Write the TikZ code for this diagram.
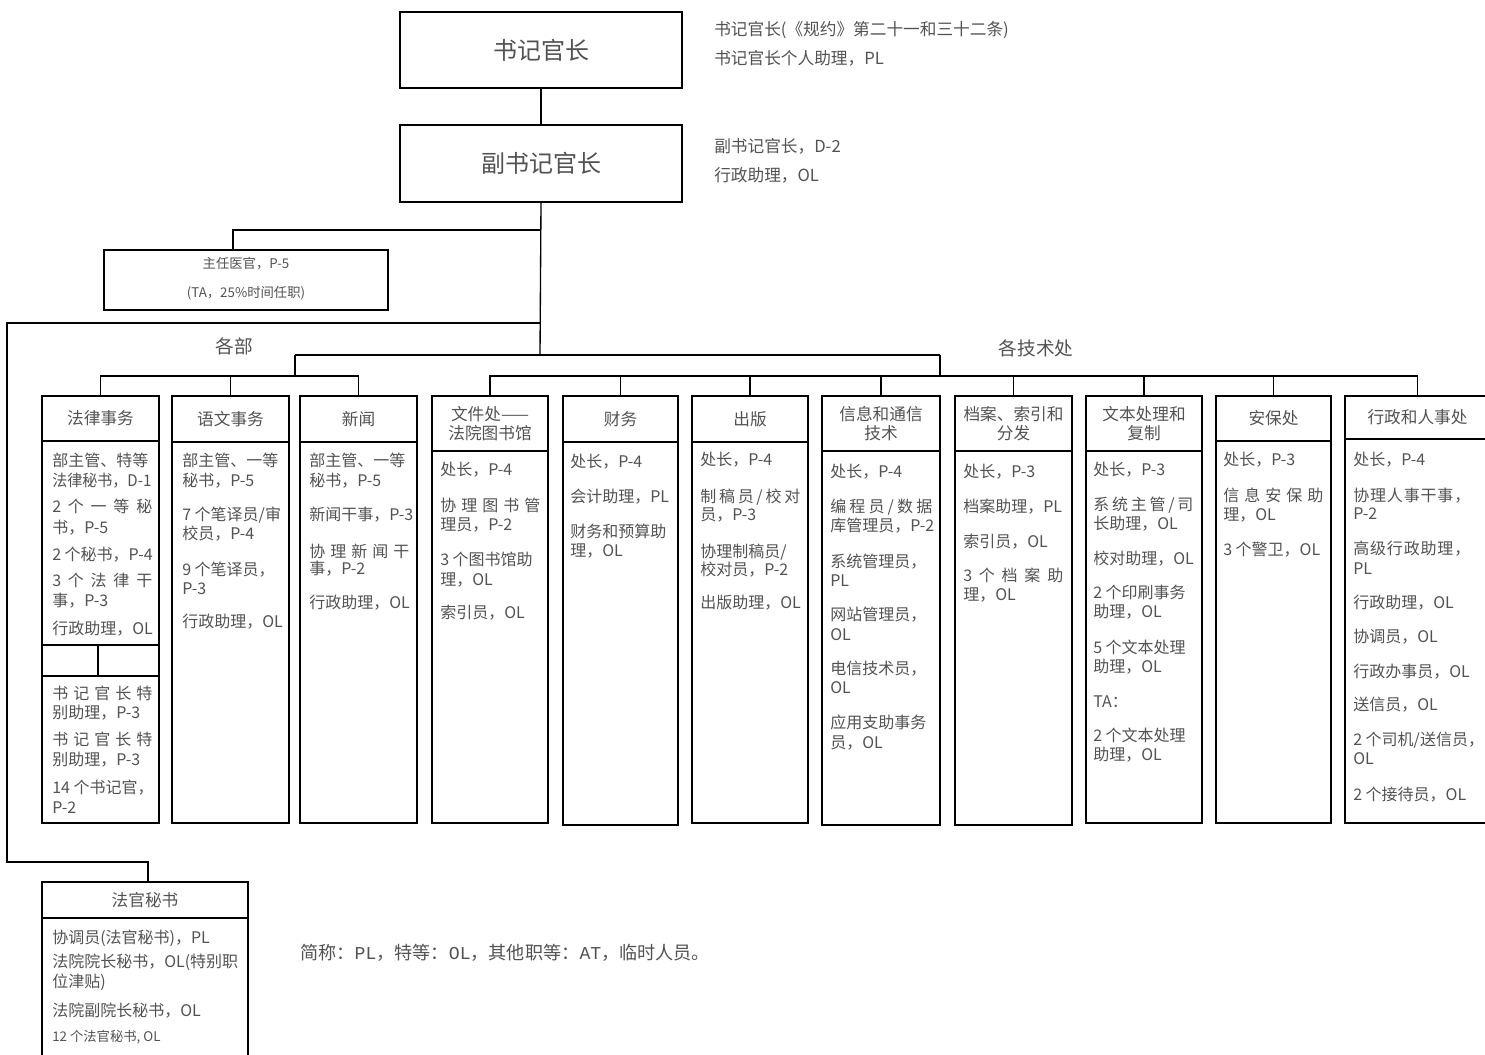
\documentclass[tikz,border=0pt]{standalone}
\usepackage{fontspec}
\usepackage{graphicx}
\setmainfont{Noto Sans CJK SC}
\newfontfamily\monof{Liberation Mono}
\usetikzlibrary{fit}
\newdimen\pxu \pxu=0.75pt
\newcounter{tn}
\def\spreadloop#1{\ifx#1\relax\else\hfill#1\expandafter\spreadloop\fi}
\newcommand\spreadit[1]{#1\spreadloop}
\newcommand\tx[3]{\stepcounter{tn}\node[txt] (t\arabic{tn}) at (#1,#2) {#3};}
\newcommand\sx[4]{\stepcounter{tn}\node[txt] (t\arabic{tn}) at (#1,#2) {\makebox[#3\pxu][s]{\spreadit#4\relax}};}
\newcommand\col[6]{%
  \node[box, fit={(#2,396) (#3,#4)}] (h#1) {};
  \node[hdr] (ht#1) at (h#1.center) {#6};
  \node[box, fit={(#2,#4) (#3,#5)}] (b#1) {};}
\tikzset{
  box/.style={draw, line width=1pt, inner sep=0pt, rectangle},
  conn/.style={line width=1pt},
  txt/.style={anchor=west, inner sep=0pt, text height=10.5pt, text depth=1.5pt, text=black!68, font=\fontsize{12}{14}\selectfont},
  hdr/.style={inner sep=0pt, text=black!68, font=\fontsize{12.5}{14.5}\selectfont, align=center},
  ttl/.style={inner sep=0pt, text=black!68, font=\fontsize{18}{20}\selectfont},
  side/.style={anchor=west, inner sep=0pt, text height=10.9pt, text depth=1.6pt, text=black!68, font=\fontsize{12.5}{14}\selectfont},
  small/.style={inner sep=0pt, text=black!68, font=\fontsize{10}{12}\selectfont},
  grp/.style={inner sep=0pt, text=black!68, font=\fontsize{14}{16}\selectfont},
}
\begin{document}
\begin{tikzpicture}[x=0.75pt, y=-0.75pt]
\useasboundingbox (0,0) rectangle (1485,1055);
% top boxes
\node[box, fit={(400,12) (682,88)}] (reg) {};
\node[ttl] (regt) at (reg.center) {书记官长};
\node[box, fit={(400,125) (682,202)}] (dreg) {};
\node[ttl] (dregt) at (dreg.center) {副书记官长};
\node[side] (s1) at (714,29) {书记官长(《规约》第二十一和三十二条)};
\node[side] (s2) at (714,58) {书记官长个人助理，PL};
\node[side] (s3) at (714,146) {副书记官长，D-2};
\node[side] (s4) at (714,175) {行政助理，OL};
% medical officer
\node[box, fit={(104,250) (388,310)}] (med) {};
\node[small] (medt1) at (246,264) {主任医官，P-5};
\node[small] (medt2) at (246,293) {(TA，25\%时间任职)};
% group labels
\node[grp] (g1) at (234,346) {各部};
\node[grp] (g2) at (1036,348) {各技术处};
% columns
\col{1}{42}{159}{441}{823}{法律事务}
\col{2}{172}{289}{442}{823}{语文事务}
\col{3}{300}{417}{442}{823}{新闻}
\col{4}{432}{548}{451}{823}{文件处——\\法院图书馆}
\col{5}{563}{678}{442}{825}{财务}
\col{6}{692}{808}{442}{823}{出版}
\col{7}{822}{940}{451}{825}{信息和通信\\技术}
\col{8}{955}{1072}{451}{825}{档案、索引和\\分发}
\col{9}{1086}{1202}{451}{823}{文本处理和\\复制}
\col{10}{1216}{1331}{441}{823}{安保处}
\col{11}{1345}{1490}{439}{823}{行政和人事处}
% judges' secretaries
\node[box, fit={(42,882) (248,918)}] (hj) {};
\node[hdr] (htj) at (hj.center) {法官秘书};
\node[box, fit={(42,918) (248,1062)}] (bj) {};
% connectors
\coordinate (tj) at (540,355);
\coordinate (ja) at (540,230);
\coordinate (jb) at (540,323);
\coordinate (medtop) at (233,250);
\coordinate (lc1) at (7,862);
\coordinate (jstop) at (148,882);
\coordinate (dl) at (295,355);
\coordinate (dr) at (940,355);
\coordinate (db) at (295,376);
\coordinate (tb) at (940,376);
\draw[conn] (reg.south) -- (dreg.north);
\draw[conn] (dreg.south) -- (tj);
\draw[conn] (ja) -| (medtop);
\draw[conn] (jb) -| (lc1) -| (jstop);
\draw[conn] (dl) -- (dr);
\draw[conn] (dl) -- (db);
\draw[conn] (dr) -- (tb);
\draw[conn] (h1.north) -- (h1.north |- db) -- (h3.north |- db) -- (h3.north);
\draw[conn] (h2.north) -- (h2.north |- db);
\draw[conn] (h4.north) -- (h4.north |- tb) -- (h11.north |- tb) -- (h11.north);
\foreach \i in {5,...,10} {\draw[conn] (h\i.north) -- (h\i.north |- tb);}
% split inside legal column
\draw[conn] (b1.west |- 0,645) -- (b1.east |- 0,645);
\draw[conn] (b1.west |- 0,676) -- (b1.east |- 0,676);
\draw[conn] (98,645) -- (98,676);
% column 1
\tx{52}{460}{部主管、特等}
\tx{52}{480}{\scalebox{0.94}[1]{法律秘书，D-1}}
\sx{52}{506}{100}{2 个一等秘}
\tx{52}{527}{书，P-5}
\tx{52}{554}{2 个秘书，P-4}
\sx{52}{580}{100}{3 个法律干}
\tx{52}{600}{事，P-3}
\tx{52}{628}{行政助理，OL}
\sx{52}{693}{100}{书记官长特}
\tx{52}{712}{别助理，P-3}
\sx{52}{739}{100}{书记官长特}
\tx{52}{759}{别助理，P-3}
\tx{52}{787}{14 个书记官，}
\tx{52}{807}{P-2}
% column 2
\tx{182}{460}{部主管、一等}
\tx{182}{480}{秘书，P-5}
\tx{182}{514}{7 个笔译员/审}
\tx{182}{533}{校员，P-4}
\tx{182}{569}{9 个笔译员，}
\tx{182}{588}{P-3}
\tx{182}{621}{行政助理，OL}
% column 3
\tx{309}{460}{部主管、一等}
\tx{309}{480}{秘书，P-5}
\tx{309}{514}{新闻干事，P-3}
\sx{309}{551}{100}{协理新闻干}
\tx{309}{568}{事，P-2}
\tx{309}{602}{行政助理，OL}
% column 4
\tx{440}{469}{处长，P-4}
\sx{440}{505}{100}{协理图书管}
\tx{440}{524}{理员，P-2}
\tx{440}{559}{3 个图书馆助}
\tx{440}{579}{理，OL}
\tx{440}{612}{索引员，OL}
% column 5
\tx{570}{461}{处长，P-4}
\tx{570}{496}{会计助理，PL}
\tx{570}{531}{财务和预算助}
\tx{570}{550}{理，OL}
% column 6
\tx{700}{459}{处长，P-4}
\sx{700}{496}{100}{制稿员/校对}
\tx{700}{514}{员，P-3}
\tx{700}{551}{协理制稿员/}
\tx{700}{569}{校对员，P-2}
\tx{700}{602}{出版助理，OL}
% column 7
\tx{830}{471}{处长，P-4}
\sx{830}{506}{102}{编程员/数据}
\tx{830}{525}{库管理员，P-2}
\tx{830}{561}{系统管理员，}
\tx{830}{580}{PL}
\tx{830}{614}{网站管理员，}
\tx{830}{634}{OL}
\tx{830}{668}{电信技术员，}
\tx{830}{687}{OL}
\tx{830}{722}{应用支助事务}
\tx{830}{742}{员，OL}
% column 8
\tx{963}{471}{处长，P-3}
\tx{963}{506}{档案助理，PL}
\tx{963}{541}{索引员，OL}
\sx{963}{575}{100}{3 个档案助}
\tx{963}{594}{理，OL}
% column 9
\tx{1093}{469}{处长，P-3}
\sx{1093}{504}{100}{系统主管/司}
\tx{1093}{523}{长助理，OL}
\tx{1093}{558}{校对助理，OL}
\tx{1093}{592}{2 个印刷事务}
\tx{1093}{611}{助理，OL}
\tx{1093}{647}{5 个文本处理}
\tx{1093}{666}{助理，OL}
\tx{1093}{701}{TA：}
\tx{1093}{735}{2 个文本处理}
\tx{1093}{754}{助理，OL}
% column 10
\tx{1223}{459}{处长，P-3}
\sx{1223}{495}{100}{信息安保助}
\tx{1223}{514}{理，OL}
\tx{1223}{549}{3 个警卫，OL}
% column 11
\tx{1353}{459}{处长，P-4}
\sx{1353}{495}{117}{协理人事干事，}
\tx{1353}{513}{P-2}
\sx{1353}{548}{117}{高级行政助理，}
\tx{1353}{568}{PL}
\tx{1353}{602}{行政助理，OL}
\tx{1353}{636}{协调员，OL}
\tx{1353}{671}{行政办事员，OL}
\tx{1353}{704}{送信员，OL}
\tx{1353}{739}{2 个司机/送信员，}
\tx{1353}{758}{OL}
\tx{1353}{794}{2 个接待员，OL}
% judges' secretaries body
\tx{52}{937}{协调员(法官秘书)，PL}
\tx{52}{961}{法院院长秘书，OL(特别职}
\tx{52}{981}{位津贴)}
\tx{52}{1010}{法院副院长秘书，OL}
\node[small, anchor=west] (tj12) at (52,1037) {12 个法官秘书, OL};
% note
\node[anchor=west, inner sep=0pt, text=black!68, font=\fontsize{13.6}{16}\selectfont] (note) at (300,953) {简称：{\monof PL}，特等：{\monof OL}，其他职等：{\monof AT}，临时人员。};
\end{tikzpicture}
\end{document}
